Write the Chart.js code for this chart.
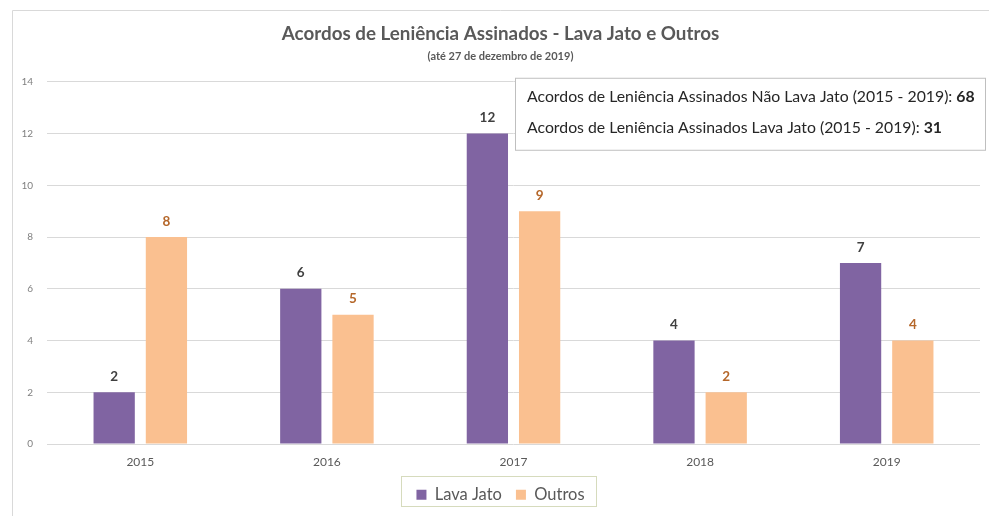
<!DOCTYPE html>
<html>
<head>
<meta charset="utf-8">
<script src="https://cdn.jsdelivr.net/npm/chart.js@4/dist/chart.umd.min.js"></script>
<style>
    html, body { margin: 0; padding: 0; background: #fff; }
</style>
</head>
<body>
<canvas id="chartJSContainer" width="989" height="516"></canvas>
<script>

var anos = ['2015', '2016', '2017', '2018', '2019'];
var lavaJato = [2, 6, 12, 4, 7];
var outros = [8, 5, 9, 2, 4];
var totalNaoLavaJato = 68;
var totalLavaJato = 31;

var fonte = 'Lato, "Open Sans", sans-serif';

// numbers over each bar
var rotulos = {
    id: 'rotulos',
    afterDatasetsDraw: function (chart) {
        var ctx = chart.ctx;
        ctx.save();
        ctx.font = 'bold 13.5px ' + fonte;
        ctx.textAlign = 'center';
        ctx.textBaseline = 'bottom';
        chart.data.datasets.forEach(function (ds, i) {
            var meta = chart.getDatasetMeta(i);
            ctx.fillStyle = ds.labelColor;
            meta.data.forEach(function (bar, j) {
                ctx.fillText(ds.data[j], bar.x, bar.y - 9);
            });
        });
        ctx.restore();
    }
};

// totals box in the upper right + frame lines + border round the legend
var extras = {
    id: 'extras',
    afterDraw: function (chart) {
        var ctx = chart.ctx;
        var area = chart.chartArea;
        ctx.save();

        // sheet frame
        ctx.strokeStyle = '#d9d9d9';
        ctx.lineWidth = 1;
        ctx.beginPath();
        ctx.moveTo(12.5, 516);
        ctx.lineTo(12.5, 10.5);
        ctx.lineTo(989, 10.5);
        ctx.stroke();

        // totals box
        var bx = area.right - 465, by = area.top - 4, bw = 470, bh = 72;
        ctx.fillStyle = '#ffffff';
        ctx.fillRect(bx, by, bw, bh);
        ctx.strokeStyle = '#bfbfbf';
        ctx.strokeRect(bx + 0.5, by + 0.5, bw, bh);

        var linhas = [
            ['Acordos de Leniência Assinados Não Lava Jato (2015 - 2019): ', totalNaoLavaJato],
            ['Acordos de Leniência Assinados Lava Jato (2015 - 2019): ', totalLavaJato]
        ];
        ctx.fillStyle = '#262626';
        ctx.textBaseline = 'middle';
        linhas.forEach(function (l, i) {
            var y = by + 19 + i * 31;
            ctx.font = '15.8px ' + fonte;
            ctx.fillText(l[0], bx + 12, y);
            var w = ctx.measureText(l[0]).width;
            ctx.font = 'bold 15.8px ' + fonte;
            ctx.fillText(String(l[1]), bx + 12 + w, y);
        });

        // legend border
        var lg = chart.legend;
        if (lg && lg.legendItems.length) {
            var hb = lg.legendHitBoxes;
            var x0 = hb[0].left - 15;
            var x1 = hb[hb.length - 1].left + hb[hb.length - 1].width + 12;
            var y0 = hb[0].top - 10;
            ctx.strokeStyle = '#d6dbbd';
            ctx.strokeRect(Math.round(x0) + 0.5, Math.round(y0) + 0.5, Math.round(x1 - x0), 30);
        }
        ctx.restore();
    }
};

var options = {
    type: 'bar',
    data: {
        labels: anos,
        datasets: [
            {
                label: 'Lava Jato',
                data: lavaJato,
                backgroundColor: '#8064a2',
                labelColor: '#404040',
                barPercentage: 0.79,
                categoryPercentage: 0.56
            },
            {
                label: 'Outros',
                data: outros,
                backgroundColor: '#fac090',
                labelColor: '#b5672a',
                barPercentage: 0.79,
                categoryPercentage: 0.56
            }
        ]
    },
    options: {
        responsive: false,
        animation: false,
        layout: {
            padding: { left: 21, right: 9, top: 0, bottom: 3 }
        },
        plugins: {
            title: {
                display: true,
                text: 'Acordos de Leniência Assinados - Lava Jato e Outros',
                color: '#595959',
                font: { family: fonte, size: 18.8, weight: 'bold' },
                padding: { top: 23, bottom: 4 }
            },
            subtitle: {
                display: true,
                text: '(até 27 de dezembro de 2019)',
                color: '#595959',
                font: { family: fonte, size: 11, weight: 'bold' },
                padding: { top: 0, bottom: 19 }
            },
            legend: {
                position: 'bottom',
                labels: {
                    color: '#595959',
                    font: { family: fonte, size: 16.5 },
                    boxWidth: 10,
                    boxHeight: 10,
                    padding: 14
                }
            },
            tooltip: { enabled: false }
        },
        scales: {
            x: {
                grid: { display: false },
                border: { display: false },
                ticks: {
                    color: '#595959',
                    font: { family: fonte, size: 12 },
                    padding: 3
                }
            },
            y: {
                min: 0,
                max: 14,
                border: { display: false },
                grid: { color: '#d9d9d9', drawTicks: false },
                ticks: {
                    stepSize: 2,
                    color: '#808080',
                    font: { family: fonte, size: 10 },
                    padding: 14
                },
                afterFit: function (scale) {
                    scale.width = 26;
                }
            }
        }
    },
    plugins: [rotulos, extras]
};

var ctx = document.getElementById('chartJSContainer').getContext('2d');
new Chart(ctx, options);
</script>
</body>
</html>
